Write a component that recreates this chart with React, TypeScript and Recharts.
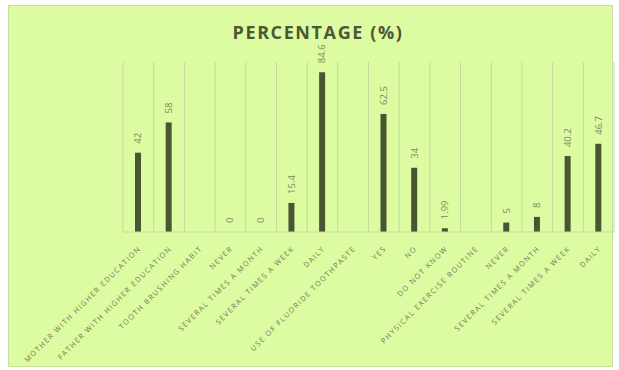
import React from 'react';
import { ComposedChart, Bar, Line, XAxis, YAxis, CartesianGrid } from 'recharts';

const categories = [
  'MOTHER WITH HIGHER EDUCATION',
  'FATHER WITH HIGHER EDUCATION',
  'TOOTH BRUSHING HABIT',
  'NEVER',
  'SEVERAL TIMES A MONTH',
  'SEVERAL TIMES A WEEK',
  'DAILY',
  'USE OF FLUORIDE TOOTHPASTE',
  'YES',
  'NO',
  'DO NOT KNOW',
  'PHYSICAL EXERCISE ROUTINE',
  'NEVER',
  'SEVERAL TIMES A MONTH',
  'SEVERAL TIMES A WEEK',
  'DAILY'
];

const percentages: (number | null)[] = [42, 58, null, 0, 0, 15.4, 84.6, null, 62.5, 34, 1.99, null, 5, 8, 40.2, 46.7];

const chartData = categories.map((name, i) => ({ key: `c${i}`, name, value: percentages[i] }));

const W = 619;
const H = 370;

const AxisTick = ({ x, y, payload }: any) => {
  const label = categories[payload.index];
  return (
    <text
      x={x + 3}
      y={y + 9}
      transform={`rotate(-45, ${x + 3}, ${y + 9})`}
      textAnchor="end"
      fill="#6f7a5c"
      fontSize={7.3}
      letterSpacing={1.4}
      fontFamily="'Open Sans', sans-serif"
    >
      {label}
    </text>
  );
};

// labels drawn from an invisible line so zero values still get their "0"
const ValueLabel = (props: any) => {
  const { x, y, value } = props;
  if (value === null || value === undefined) return null;
  const cx = x + 3;
  const cy = y - 9;
  return (
    <text
      x={cx}
      y={cy}
      transform={`rotate(-90, ${cx}, ${cy})`}
      textAnchor="start"
      fill="#7d8a66"
      fontSize={9.5}
      fontFamily="'Open Sans', sans-serif"
    >
      {value}
    </text>
  );
};

export default function App() {
  return (
    <div style={{ position: 'fixed', left: 0, top: 0, width: W, height: H, background: '#ffffff' }}>
      <div
        style={{
          position: 'absolute',
          left: 8,
          top: 5,
          width: 605,
          height: 362,
          background: '#ddfba0',
          border: '1px solid #c9df9f',
          boxSizing: 'border-box'
        }}
      />
      <div
        style={{
          position: 'absolute',
          left: 0,
          top: 20,
          width: 636,
          textAlign: 'center',
          fontFamily: "'Open Sans', sans-serif",
          fontWeight: 700,
          fontSize: 18,
          letterSpacing: 1.6,
          color: '#4d5636'
        }}
      >
        PERCENTAGE (%)
      </div>
      <div style={{ position: 'absolute', left: 0, top: 0 }}>
        <ComposedChart
          width={W}
          height={H}
          data={chartData}
          margin={{ top: 62, right: 5, bottom: 8, left: 123 }}
          barSize={6}
        >
          <CartesianGrid
            horizontal={false}
            stroke="#c4d99c"
            verticalCoordinatesGenerator={({ offset }: any) =>
              Array.from({ length: categories.length + 1 }, (_, i) => offset.left + (i * offset.width) / categories.length)
            }
          />
          <XAxis
            dataKey="key"
            interval={0}
            height={130}
            tickLine={false}
            axisLine={{ stroke: '#c4d99c' }}
            tick={<AxisTick />}
          />
          <YAxis hide domain={[0, 90]} />
          <Bar dataKey="value" fill="#4b5532" isAnimationActive={false} />
          <Line
            dataKey="value"
            stroke="none"
            dot={false}
            activeDot={false}
            connectNulls={false}
            label={<ValueLabel />}
            isAnimationActive={false}
          />
        </ComposedChart>
      </div>
    </div>
  );
}
